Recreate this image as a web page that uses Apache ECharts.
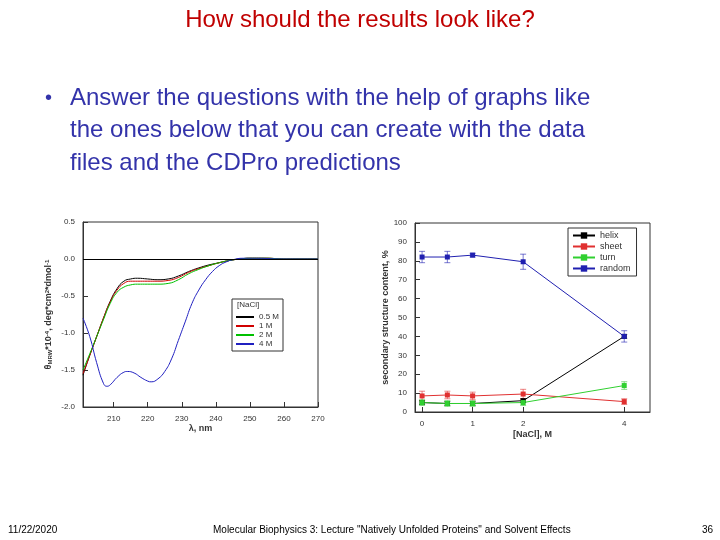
<!DOCTYPE html><html><head><meta charset="utf-8"><script src="https://cdn.jsdelivr.net/npm/echarts@6/dist/echarts.min.js"></script>
<style>html,body{margin:0;background:#fff}#c{width:720px;height:540px}</style></head><body><div id="c"></div><script>
const wl0 = [201,203,205,207,209,211,213,215,217,220,223,226,229,232,235,238,241,244,247,250,255,260,265,270];
const cd05 = [-1.57,-1.3,-1.05,-0.8,-0.57,-0.4,-0.3,-0.27,-0.26,-0.27,-0.28,-0.27,-0.23,-0.17,-0.12,-0.08,-0.05,-0.02,0,0.01,0.01,0,0,0];
const cd1  = [-1.55,-1.3,-1.05,-0.8,-0.58,-0.42,-0.33,-0.3,-0.3,-0.3,-0.3,-0.29,-0.25,-0.18,-0.13,-0.09,-0.05,-0.02,0,0.01,0.01,0,0,0];
const cd2  = [-1.5,-1.28,-1.05,-0.82,-0.6,-0.45,-0.38,-0.35,-0.34,-0.34,-0.34,-0.33,-0.28,-0.2,-0.14,-0.09,-0.05,-0.02,0,0.01,0.01,0,0,0];
const wl4 = [201,203,205,207,208,209,211,213,214,216,218,220,221,223,225,227,229,231,233,235,237,239,241,243,245,248,252,260,270];
const cd4 = [-0.8,-1.05,-1.4,-1.68,-1.72,-1.7,-1.6,-1.53,-1.52,-1.54,-1.6,-1.65,-1.66,-1.62,-1.52,-1.35,-1.1,-0.85,-0.6,-0.42,-0.28,-0.17,-0.09,-0.04,-0.01,0.01,0.01,0,0];
const nacl = [0,0.5,1,2,4];
const helix = [5,4.5,4.5,6,40];
const sheet = [8.5,9,8.5,9.5,5.5];
const turn = [5,4.5,4.5,5,14];
const random = [82,82,83,79.5,40];
const errHelix = [1,1,1,1,1];
const errSheet = [2.5,2,2,2.5,1.5];
const errTurn = [1.5,1.5,1.5,1.5,2];
const errRandom = [3,3,1,4,3];

const pair=(x,y)=>x.map((v,i)=>[v,y[i]]);
function errSeries(y,e,color){
  return {type:'custom',xAxisIndex:1,yAxisIndex:1,silent:true,z:1,
    data:nacl.map((x,i)=>[x,y[i]-e[i],y[i]+e[i]]),
    renderItem:(p,api)=>{const a=api.coord([api.value(0),api.value(1)]),b=api.coord([api.value(0),api.value(2)]);
      const st={stroke:color,lineWidth:1,opacity:0.6};
      return {type:'group',children:[{type:'line',shape:{x1:a[0],y1:a[1],x2:b[0],y2:b[1]},style:st},
        {type:'line',shape:{x1:a[0]-3,y1:a[1],x2:a[0]+3,y2:a[1]},style:st},
        {type:'line',shape:{x1:b[0]-3,y1:b[1],x2:b[0]+3,y2:b[1]},style:st}]};}};
}
const ax={axisLine:{onZero:false,lineStyle:{color:'#333'}},axisTick:{inside:true,lineStyle:{color:'#333'}},splitLine:{show:false},axisLabel:{color:'#333',fontSize:8,fontFamily:'Liberation Sans'}};
const c=echarts.init(document.getElementById('c'));
c.setOption({animation:false,
 grid:[{left:83,top:222,width:235,height:185,show:true,borderColor:'#333',backgroundColor:'transparent'},
       {left:415,top:223,width:235,height:189,show:true,borderColor:'#333'}],
 xAxis:[{...ax,type:'value',min:201,max:270,gridIndex:0,axisTick:{inside:true,customValues:[210,220,230,240,250,260,270]},axisLabel:{...ax.axisLabel,customValues:[210,220,230,240,250,260,270]},
   name:'λ, nm',nameLocation:'middle',nameGap:16,nameTextStyle:{fontSize:9,fontWeight:'bold',fontFamily:'Liberation Sans'}},
  {...ax,type:'value',min:-0.14,max:4.51,gridIndex:1,axisTick:{inside:true,customValues:[0,1,2,4]},axisLabel:{...ax.axisLabel,customValues:[0,1,2,4]},
   name:'[NaCl], M',nameLocation:'middle',nameGap:18,nameTextStyle:{fontSize:9,fontWeight:'bold',fontFamily:'Liberation Sans'}}],
 yAxis:[{...ax,type:'value',min:-2,max:0.5,interval:0.5,gridIndex:0,axisLabel:{...ax.axisLabel,formatter:v=>v.toFixed(1)},
   name:'{a|θ}{s|MRW}{a|*10}{p|-4}{a|, deg*cm}{p|2}{a|*dmol}{p|-1}',nameLocation:'middle',nameGap:30,
   nameTextStyle:{rich:{a:{fontSize:9,fontWeight:'bold',fontFamily:'Liberation Sans'},s:{fontSize:6,fontWeight:'bold',verticalAlign:'bottom'},p:{fontSize:6,fontWeight:'bold',verticalAlign:'top'}}}},
  {...ax,type:'value',min:0,max:100,interval:10,gridIndex:1,name:'secondary structure content, %',nameLocation:'middle',nameGap:22,nameTextStyle:{fontSize:9,fontWeight:'bold',fontFamily:'Liberation Sans'}}],
 legend:[{data:['0.5 M','1 M','2 M','4 M'],left:232,top:299,orient:'vertical',itemGap:1,itemWidth:18,itemHeight:2,icon:'rect',
   textStyle:{fontSize:8,color:'#333'},borderColor:'#333',borderWidth:1,padding:[14,4,3,4],backgroundColor:'#fff'},
  {data:['helix','sheet','turn','random'],left:568,top:228,orient:'vertical',itemGap:2,itemWidth:22,itemHeight:8,
   textStyle:{fontSize:9,color:'#333'},borderColor:'#333',borderWidth:1,padding:[3,6,3,4]}],
 graphic:[
  {type:'text',left:'center',top:8,style:{text:'How should the results look like?',fill:'#c00000',font:'24px Liberation Sans'}},
  {type:'text',left:45,top:88,style:{text:'•',fill:'#3333aa',font:'20px Liberation Sans'}},
  {type:'text',left:70,top:82,style:{text:'Answer the questions with the help of graphs like\nthe ones below that you can create with the data\nfiles and the CDPro predictions',fill:'#3333aa',font:'24px Liberation Sans',lineHeight:32.5}},
  {type:'text',left:237,top:301,z:100,style:{text:'[NaCl]',fill:'#333',font:'8px Liberation Sans'}},
  {type:'text',left:8,top:525,style:{text:'11/22/2020',fill:'#000',font:'10px Liberation Sans'}},
  {type:'text',left:213,top:525,style:{text:'Molecular Biophysics 3: Lecture "Natively Unfolded Proteins" and Solvent Effects',fill:'#000',font:'10px Liberation Sans'}},
  {type:'text',left:702,top:525,style:{text:'36',fill:'#000',font:'10px Liberation Sans'}}],
 series:[
  {name:'0.5 M',type:'line',data:pair(wl0,cd05),smooth:true,showSymbol:false,lineStyle:{width:1,color:'#000'},itemStyle:{color:'#000'},
   markLine:{silent:true,symbol:'none',label:{show:false},lineStyle:{color:'#000',width:1,type:'solid'},data:[{yAxis:0}]}},
  {name:'1 M',type:'line',data:pair(wl0,cd1),smooth:true,showSymbol:false,lineStyle:{width:1,color:'#d00000'},itemStyle:{color:'#d00000'}},
  {name:'2 M',type:'line',data:pair(wl0,cd2),smooth:true,showSymbol:false,lineStyle:{width:1,color:'#00c000'},itemStyle:{color:'#00c000'}},
  {name:'4 M',type:'line',data:pair(wl4,cd4),smooth:true,showSymbol:false,lineStyle:{width:1,color:'#2020c0'},itemStyle:{color:'#2020c0'}},
  errSeries(helix,errHelix,'#000'),errSeries(sheet,errSheet,'#e03030'),errSeries(turn,errTurn,'#30c030'),errSeries(random,errRandom,'#2020b0'),
  {name:'helix',type:'line',xAxisIndex:1,yAxisIndex:1,data:pair(nacl,helix),symbol:'rect',symbolSize:5,lineStyle:{width:1,color:'#000'},itemStyle:{color:'#000'}},
  {name:'sheet',type:'line',xAxisIndex:1,yAxisIndex:1,data:pair(nacl,sheet),symbol:'rect',symbolSize:5,lineStyle:{width:1,color:'#e03030'},itemStyle:{color:'#e03030'}},
  {name:'turn',type:'line',xAxisIndex:1,yAxisIndex:1,data:pair(nacl,turn),symbol:'rect',symbolSize:5,lineStyle:{width:1,color:'#30d030'},itemStyle:{color:'#30d030'}},
  {name:'random',type:'line',xAxisIndex:1,yAxisIndex:1,data:pair(nacl,random),symbol:'rect',symbolSize:5,lineStyle:{width:1,color:'#2020b0'},itemStyle:{color:'#2020b0'}}]
});
</script></body></html>
